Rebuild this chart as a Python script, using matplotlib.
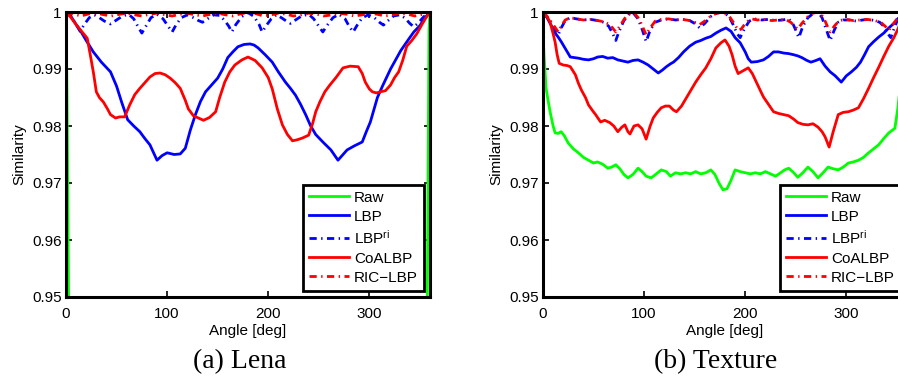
import matplotlib
matplotlib.use("Agg")
import matplotlib.pyplot as plt

# ---------------- data : (a) Lena ----------------
lena_raw_ang = [0, 1, 3, 357, 359, 360]
lena_raw_val = [1.0, 0.9855, 0.94, 0.94, 0.997, 1.0]

lena_lbp_ang = [0, 5, 10, 14, 20, 27, 35, 44, 50, 55, 61, 67, 73, 78, 83, 90, 95, 100, 107, 113,
                118, 123, 128, 133, 138, 144, 150, 155, 160, 165, 170, 176, 182, 186, 190, 197,
                204, 210, 217, 222, 227, 232, 237, 242, 247, 254, 262, 269, 274, 278, 285, 293,
                297, 301, 308, 313, 321, 331, 338, 344, 350, 355, 360]
lena_lbp_val = [1.0, 0.9992, 0.9978, 0.9968, 0.9950, 0.9930, 0.9912, 0.9895, 0.9870, 0.9842,
                0.9811, 0.9800, 0.9790, 0.9778, 0.9767, 0.9740, 0.9748, 0.9753, 0.9750, 0.9751,
                0.9761, 0.9793, 0.9820, 0.9843, 0.9860, 0.9872, 0.9884, 0.9900, 0.9920, 0.9930,
                0.9939, 0.9943, 0.9944, 0.9942, 0.9937, 0.9925, 0.9912, 0.9895, 0.9877, 0.9866,
                0.9854, 0.9838, 0.9820, 0.9800, 0.9785, 0.9772, 0.9758, 0.9740, 0.9750, 0.9758,
                0.9765, 0.9772, 0.9790, 0.9807, 0.9850, 0.9870, 0.9900, 0.9932, 0.9950, 0.9965,
                0.9976, 0.9990, 1.0]

lena_lbpri_ang = [0, 5, 10, 14, 18, 23, 28, 33, 38, 44, 50, 56, 62, 67, 71, 75, 79, 84, 90, 96,
                  101, 105, 109, 114, 120, 126, 131, 135, 140, 146, 152, 157, 161, 164, 168, 174,
                  180, 186, 191, 194, 198, 203, 208, 213, 218, 222, 227, 233, 240, 245, 250, 254,
                  258, 264, 270, 276, 280, 284, 288, 293, 299, 305, 310, 314, 318, 324, 330, 335,
                  340, 344, 348, 354, 360]
lena_lbpri_val = [1.0, 0.9992, 0.9978, 0.9966, 0.9978, 0.9990, 0.9995, 0.9990, 0.9984, 0.9979,
                  0.9986, 0.9993, 0.9996, 0.9988, 0.9975, 0.9963, 0.9975, 0.9990, 0.9996, 0.9988,
                  0.9975, 0.9965, 0.9978, 0.9990, 0.9995, 0.9990, 0.9985, 0.9982, 0.9988, 0.9995,
                  0.9994, 0.9985, 0.9975, 0.9965, 0.9978, 0.9992, 0.9999, 0.9992, 0.9978, 0.9965,
                  0.9976, 0.9988, 0.9995, 0.9990, 0.9984, 0.9980, 0.9986, 0.9993, 0.9996, 0.9988,
                  0.9975, 0.9965, 0.9976, 0.9990, 0.9996, 0.9988, 0.9975, 0.9965, 0.9977, 0.9990,
                  0.9995, 0.9990, 0.9982, 0.9977, 0.9984, 0.9993, 0.9995, 0.9990, 0.9980, 0.9974,
                  0.9980, 0.9992, 1.0]

lena_co_ang = [0, 5, 10, 15, 21, 24, 27, 30, 33, 37, 41, 44, 49, 53, 58, 63, 68, 73, 78, 83, 88,
               93, 98, 103, 108, 113, 118, 121, 126, 131, 136, 142, 148, 152, 157, 162, 167, 174,
               180, 187, 194, 200, 204, 209, 214, 219, 224, 229, 234, 240, 244, 247, 251, 256,
               261, 267, 274, 281, 289, 293, 296, 300, 303, 307, 311, 316, 321, 325, 329, 333,
               337, 342, 347, 352, 356, 360]
lena_co_val = [1.0, 0.9990, 0.9978, 0.9967, 0.9954, 0.9925, 0.9895, 0.9860, 0.9850, 0.9842,
               0.9830, 0.9820, 0.9814, 0.9816, 0.9816, 0.9837, 0.9855, 0.9866, 0.9876, 0.9886,
               0.9892, 0.9893, 0.9890, 0.9884, 0.9876, 0.9866, 0.9845, 0.9830, 0.9818, 0.9814,
               0.9810, 0.9815, 0.9825, 0.9850, 0.9877, 0.9895, 0.9907, 0.9916, 0.9921, 0.9915,
               0.9902, 0.9885, 0.9865, 0.9830, 0.9802, 0.9785, 0.9774, 0.9776, 0.9779, 0.9784,
               0.9805, 0.9825, 0.9842, 0.9860, 0.9872, 0.9885, 0.9902, 0.9905, 0.9904, 0.9892,
               0.9877, 0.9865, 0.9860, 0.9858, 0.9860, 0.9862, 0.9872, 0.9885, 0.9895, 0.9915,
               0.9940, 0.9950, 0.9962, 0.9978, 0.9990, 1.0]

lena_ric_ang = [0, 8, 15, 23, 30, 38, 45, 53, 60, 68, 75, 83, 90, 98, 105, 113, 120, 128, 135,
                143, 150, 158, 165, 173, 180, 188, 195, 203, 210, 218, 225, 233, 240, 248, 255,
                263, 270, 278, 285, 293, 300, 308, 315, 323, 330, 338, 345, 353, 360]
lena_ric_val = [1.0, 0.9996, 0.9993, 0.9997, 0.9998, 0.9995, 0.9993, 0.9996, 0.9998, 0.9995,
                0.9993, 0.9996, 0.9998, 0.9995, 0.9993, 0.9996, 0.9998, 0.9995, 0.9993, 0.9996,
                0.9998, 0.9995, 0.9993, 0.9997, 0.9999, 0.9997, 0.9993, 0.9995, 0.9998, 0.9996,
                0.9993, 0.9995, 0.9998, 0.9996, 0.9993, 0.9995, 0.9998, 0.9996, 0.9993, 0.9995,
                0.9998, 0.9996, 0.9993, 0.9995, 0.9998, 0.9996, 0.9993, 0.9996, 1.0]

# ---------------- data : (b) Texture ----------------
tex_raw_ang = [0, 1, 3, 5, 7, 10, 12, 15, 18, 21, 25, 30, 35, 40, 45, 50, 54, 59, 64, 68, 72, 76,
               80, 84, 89, 94, 98, 102, 107, 112, 117, 122, 126, 131, 136, 141, 146, 151, 156,
               161, 166, 170, 174, 178, 182, 186, 190, 195, 200, 205, 210, 215, 220, 225, 230,
               235, 239, 243, 248, 252, 257, 262, 267, 272, 277, 282, 287, 292, 297, 302, 307,
               312, 317, 322, 327, 332, 337, 342, 348, 351, 355, 360]
tex_raw_val = [0.9960, 0.9925, 0.9867, 0.9845, 0.9825, 0.9800, 0.9788, 0.9787, 0.9790, 0.9783,
               0.9770, 0.9760, 0.9753, 0.9745, 0.9740, 0.9735, 0.9737, 0.9733, 0.9726, 0.9728,
               0.9732, 0.9725, 0.9715, 0.9709, 0.9715, 0.9726, 0.9720, 0.9712, 0.9709, 0.9716,
               0.9723, 0.9720, 0.9712, 0.9718, 0.9716, 0.9718, 0.9716, 0.9720, 0.9716, 0.9718,
               0.9723, 0.9715, 0.9700, 0.9688, 0.9690, 0.9705, 0.9723, 0.9720, 0.9718, 0.9716,
               0.9718, 0.9716, 0.9720, 0.9716, 0.9712, 0.9718, 0.9723, 0.9726, 0.9718, 0.9710,
               0.9718, 0.9728, 0.9720, 0.9709, 0.9718, 0.9728, 0.9725, 0.9723, 0.9728, 0.9735,
               0.9737, 0.9740, 0.9745, 0.9753, 0.9760, 0.9767, 0.9778, 0.9788, 0.9796, 0.9832,
               0.9900, 1.0]

tex_lbp_ang = [0, 4, 8, 12, 15, 18, 20, 24, 27, 31, 35, 40, 45, 50, 54, 59, 64, 69, 74, 79, 84,
               89, 94, 99, 104, 109, 114, 118, 122, 126, 129, 134, 139, 145, 151, 156, 161, 166,
               171, 176, 181, 186, 190, 195, 200, 203, 206, 212, 218, 223, 228, 233, 238, 243,
               248, 252, 256, 261, 265, 270, 274, 279, 284, 289, 295, 300, 305, 310, 314, 318,
               322, 327, 332, 337, 342, 347, 351, 355, 360]
tex_lbp_val = [1.0, 0.9990, 0.9977, 0.9963, 0.9956, 0.9948, 0.9942, 0.9930, 0.9921, 0.9920,
               0.9919, 0.9917, 0.9916, 0.9918, 0.9921, 0.9922, 0.9919, 0.9920, 0.9916, 0.9914,
               0.9912, 0.9915, 0.9916, 0.9912, 0.9907, 0.9900, 0.9893, 0.9898, 0.9904, 0.9909,
               0.9912, 0.9920, 0.9930, 0.9940, 0.9947, 0.9950, 0.9954, 0.9957, 0.9963, 0.9968,
               0.9972, 0.9966, 0.9955, 0.9946, 0.9930, 0.9918, 0.9912, 0.9913, 0.9916, 0.9922,
               0.9930, 0.9930, 0.9928, 0.9927, 0.9925, 0.9923, 0.9920, 0.9915, 0.9912, 0.9915,
               0.9918, 0.9905, 0.9895, 0.9888, 0.9877, 0.9888, 0.9895, 0.9903, 0.9912, 0.9925,
               0.9939, 0.9948, 0.9956, 0.9963, 0.9972, 0.9980, 0.9988, 0.9995, 1.0]

tex_lbpri_ang = [0, 5, 10, 15, 18, 22, 27, 33, 40, 47, 54, 60, 65, 69, 72, 75, 80, 85, 89, 94,
                 98, 102, 106, 111, 117, 124, 131, 138, 145, 150, 155, 160, 166, 172, 178, 184,
                 188, 192, 195, 199, 204, 209, 216, 223, 230, 237, 243, 247, 250, 253, 257, 262,
                 267, 272, 276, 280, 284, 288, 292, 297, 303, 310, 316, 322, 328, 333, 337, 341,
                 344, 347, 351, 355, 360]
tex_lbpri_val = [1.0, 0.9990, 0.9975, 0.9960, 0.9972, 0.9985, 0.9990, 0.9988, 0.9986, 0.9987,
                 0.9985, 0.9982, 0.9975, 0.9962, 0.9950, 0.9965, 0.9985, 0.9996, 0.9999, 0.9988,
                 0.9970, 0.9948, 0.9968, 0.9982, 0.9986, 0.9988, 0.9986, 0.9987, 0.9985, 0.9980,
                 0.9972, 0.9980, 0.9992, 0.9998, 1.0, 0.9992, 0.9978, 0.9962, 0.9955, 0.9970,
                 0.9984, 0.9988, 0.9986, 0.9987, 0.9985, 0.9986, 0.9988, 0.9980, 0.9968, 0.9955,
                 0.9975, 0.9990, 0.9997, 1.0, 0.9990, 0.9970, 0.9950, 0.9968, 0.9982, 0.9986,
                 0.9986, 0.9984, 0.9986, 0.9987, 0.9985, 0.9982, 0.9975, 0.9962, 0.9955, 0.9970,
                 0.9988, 0.9995, 1.0]

tex_co_ang = [0, 4, 7, 10, 12, 14, 16, 20, 24, 27, 32, 35, 38, 42, 45, 49, 52, 57, 61, 66, 70, 74,
              78, 81, 84, 86, 90, 94, 98, 102, 106, 109, 113, 117, 121, 125, 129, 132, 137, 142,
              147, 151, 156, 161, 166, 171, 176, 180, 184, 187, 190, 193, 198, 203, 207, 211,
              215, 218, 223, 228, 233, 238, 243, 248, 252, 257, 262, 267, 272, 276, 279, 283,
              287, 292, 297, 302, 307, 312, 317, 322, 327, 332, 337, 342, 347, 351, 355, 360]
tex_co_val = [1.0, 0.9992, 0.9982, 0.9962, 0.9947, 0.9925, 0.9910, 0.9907, 0.9906, 0.9904,
              0.9890, 0.9875, 0.9863, 0.9850, 0.9837, 0.9827, 0.9820, 0.9807, 0.9810, 0.9806,
              0.9800, 0.9790, 0.9798, 0.9802, 0.9790, 0.9786, 0.9800, 0.9802, 0.9795, 0.9777,
              0.9800, 0.9814, 0.9824, 0.9832, 0.9835, 0.9835, 0.9828, 0.9825, 0.9835, 0.9850,
              0.9865, 0.9877, 0.9890, 0.9902, 0.9918, 0.9937, 0.9946, 0.9951, 0.9940, 0.9925,
              0.9905, 0.9892, 0.9897, 0.9902, 0.9892, 0.9877, 0.9862, 0.9851, 0.9838, 0.9825,
              0.9822, 0.9820, 0.9818, 0.9812, 0.9806, 0.9803, 0.9802, 0.9804, 0.9798, 0.9790,
              0.9781, 0.9763, 0.9790, 0.9820, 0.9824, 0.9825, 0.9828, 0.9832, 0.9848, 0.9866,
              0.9885, 0.9903, 0.9922, 0.9940, 0.9955, 0.9970, 0.9988, 1.0]

tex_ric_ang = [0, 5, 10, 15, 18, 22, 27, 33, 40, 47, 54, 60, 66, 72, 77, 82, 87, 90, 95, 99, 102,
               106, 111, 117, 124, 131, 138, 145, 150, 155, 160, 166, 172, 178, 184, 189, 193,
               196, 201, 206, 212, 219, 226, 233, 240, 245, 249, 252, 256, 262, 267, 272, 277,
               281, 284, 288, 293, 300, 307, 314, 321, 328, 334, 339, 342, 346, 351, 355, 360]
tex_ric_val = [1.0, 0.9990, 0.9978, 0.9965, 0.9975, 0.9986, 0.9990, 0.9988, 0.9986, 0.9987,
               0.9985, 0.9983, 0.9978, 0.9965, 0.9978, 0.9992, 0.9998, 0.9999, 0.9988, 0.9972,
               0.9960, 0.9972, 0.9984, 0.9987, 0.9988, 0.9986, 0.9987, 0.9985, 0.9982, 0.9978,
               0.9984, 0.9993, 0.9998, 1.0, 0.9993, 0.9980, 0.9968, 0.9970, 0.9982, 0.9988,
               0.9986, 0.9987, 0.9985, 0.9986, 0.9987, 0.9982, 0.9975, 0.9970, 0.9980, 0.9992,
               0.9998, 1.0, 0.9992, 0.9976, 0.9965, 0.9975, 0.9985, 0.9987, 0.9985, 0.9986,
               0.9987, 0.9985, 0.9982, 0.9974, 0.9968, 0.9978, 0.9990, 0.9995, 1.0]

legend_labels = ["Raw", "LBP", "LBP$^{ri}$", "CoALBP", "RIC\u2212LBP"]
xticks = [0, 100, 200, 300]
yticks = [0.95, 0.96, 0.97, 0.98, 0.99, 1.0]
ytick_labels = ["0.95", "0.96", "0.97", "0.98", "0.99", "1"]
captions = ["(a) Lena", "(b) Texture"]

# ---------------- drawing ----------------
plt.rcParams['font.family'] = ['Liberation Sans', 'DejaVu Sans']
plt.rcParams['mathtext.fontset'] = 'custom'
plt.rcParams['mathtext.rm'] = 'Liberation Sans'
plt.rcParams['mathtext.it'] = 'Liberation Sans'

W, H = 898, 383
fig = plt.figure(figsize=(W / 100, H / 100), dpi=100)

ax_w = 364 / W
ax_b = 1 - 297 / H
ax_h = (297 - 12) / H
axes = [fig.add_axes([66 / W, ax_b, ax_w, ax_h]),
        fig.add_axes([543 / W, ax_b, ax_w, ax_h])]

green = (0, 1, 0)
blue = (0, 0, 1)
red = (1, 0, 0)
dashdot = (0, (2.6, 1.6, 0.5, 1.6))
lw = 2.0

panels = [
    (lena_raw_ang, lena_raw_val, lena_lbp_ang, lena_lbp_val, lena_lbpri_ang, lena_lbpri_val,
     lena_co_ang, lena_co_val, lena_ric_ang, lena_ric_val),
    (tex_raw_ang, tex_raw_val, tex_lbp_ang, tex_lbp_val, tex_lbpri_ang, tex_lbpri_val,
     tex_co_ang, tex_co_val, tex_ric_ang, tex_ric_val),
]

for ax, data, cap in zip(axes, panels, captions):
    ra, rv, la, lv, ia, iv, ca, cv, sa, sv = data
    ax.plot(ra, rv, color=green, lw=lw, label=legend_labels[0])
    ax.plot(la, lv, color=blue, lw=lw, label=legend_labels[1])
    ax.plot(ia, iv, color=blue, lw=lw, ls=dashdot, label=legend_labels[2])
    ax.plot(ca, cv, color=red, lw=lw, label=legend_labels[3])
    ax.plot(sa, sv, color=red, lw=lw, ls=dashdot, label=legend_labels[4])
    ax.set_xlim(0, 360)
    ax.set_ylim(0.95, 1.0)
    ax.set_xticks(xticks)
    ax.set_yticks(yticks)
    ax.set_yticklabels(ytick_labels)
    ax.tick_params(direction='in', length=4, width=1.2, top=True, right=True,
                   labelsize=11, colors='black')
    ax.tick_params(axis='x', pad=7)
    ax.tick_params(axis='y', pad=3)
    for s in ax.spines.values():
        s.set_linewidth(2.2)
        s.set_color('black')
    ax.set_xlabel("Angle [deg]", fontsize=11, labelpad=2)
    ax.set_ylabel("Similarity", fontsize=11, labelpad=4)
    leg = ax.legend(loc='lower right', fontsize=11, frameon=True, fancybox=False,
                    framealpha=1, edgecolor='black', handlelength=2.6, handletextpad=0.35,
                    labelspacing=0.33, borderpad=0.4, borderaxespad=0.4)
    leg.get_frame().set_linewidth(2.0)

fig.text(240 / W, 1 - 362 / H, captions[0], ha='center', va='center', fontsize=20,
         family='Liberation Serif')
fig.text(716 / W, 1 - 362 / H, captions[1], ha='center', va='center', fontsize=20,
         family='Liberation Serif')

fig.savefig("out.png", dpi=100)
